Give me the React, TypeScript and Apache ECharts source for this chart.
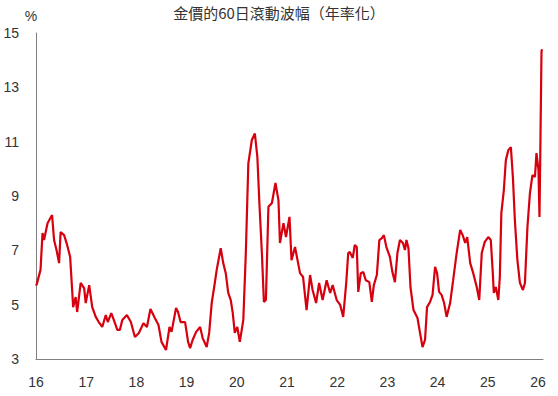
import React, { useEffect, useRef } from "react";
import * as echarts from "echarts";

const TITLE = "金價的60日滾動波幅（年率化）";
const Y_TICKS = [3, 5, 7, 9, 11, 13, 15];
const X_TICKS = [16, 17, 18, 19, 20, 21, 22, 23, 24, 25, 26];

// decimal year (two-digit) positions
const years = [
  16.0, 16.01, 16.09, 16.13, 16.16, 16.23, 16.32, 16.36, 16.41, 16.46, 16.49, 16.56, 16.62, 16.68,
  16.72, 16.74, 16.79, 16.82, 16.89, 16.96, 16.99, 17.06, 17.12, 17.19, 17.25, 17.32, 17.39,
  17.43, 17.5, 17.55, 17.62, 17.67, 17.72, 17.81, 17.89, 17.97, 18.05, 18.14, 18.21, 18.28,
  18.37, 18.44, 18.5, 18.59, 18.66, 18.7, 18.79, 18.83, 18.88, 18.97, 19.03, 19.07, 19.12,
  19.19, 19.27, 19.32, 19.4, 19.45, 19.5, 19.55, 19.6, 19.68, 19.73, 19.78, 19.83, 19.88,
  19.92, 19.96, 20.01, 20.06, 20.13, 20.18, 20.23, 20.3, 20.36, 20.41, 20.45, 20.5, 20.54,
  20.58, 20.63, 20.7, 20.77, 20.83, 20.86, 20.93, 20.98, 21.05, 21.09, 21.16, 21.21, 21.26,
  21.32, 21.39, 21.46, 21.51, 21.58, 21.64, 21.71, 21.79, 21.86, 21.91, 21.99, 22.06, 22.12,
  22.18, 22.22, 22.25, 22.31, 22.35, 22.39, 22.42, 22.47, 22.52, 22.57, 22.64, 22.69, 22.73,
  22.79, 22.84, 22.89, 22.93, 22.98, 23.05, 23.1, 23.15, 23.2, 23.25, 23.31, 23.35, 23.38,
  23.42, 23.46, 23.52, 23.6, 23.65, 23.7, 23.75, 23.79, 23.85, 23.9, 23.95, 23.99, 24.03,
  24.08, 24.13, 24.18, 24.25, 24.31, 24.38, 24.45, 24.5, 24.55, 24.59, 24.65, 24.71, 24.78,
  24.83, 24.88, 24.94, 25.01, 25.06, 25.1, 25.12, 25.16, 25.21, 25.24, 25.27, 25.32, 25.36,
  25.41, 25.46, 25.5, 25.54, 25.59, 25.64, 25.7, 25.74, 25.79, 25.84, 25.89, 25.94, 25.97,
  26.01, 26.03, 26.05, 26.07, 26.08,
];

const volatility = [
  5.75, 5.72, 6.28, 7.64, 7.38, 8.0, 8.3, 7.38, 7.0, 6.53, 7.67, 7.56, 7.2, 6.76,
  5.54, 4.91, 5.28, 4.73, 5.8, 5.6, 5.06, 5.72, 4.91, 4.55, 4.36, 4.18, 4.62,
  4.36, 4.69, 4.44, 4.07, 4.07, 4.44, 4.62, 4.36, 3.81, 3.96, 4.32, 4.18, 4.84,
  4.5, 4.25, 3.63, 3.33, 4.18, 4.0, 4.88, 4.73, 4.36, 4.36, 3.63, 3.4, 3.7,
  4.0, 4.18, 3.77, 3.44, 3.96, 5.06, 5.65, 6.28, 7.08, 6.53, 6.16, 5.43, 5.17,
  4.69, 3.96, 4.18, 3.63, 4.44, 6.9, 10.2, 11.06, 11.3, 10.43, 8.74, 6.9, 5.1,
  5.17, 8.6, 8.74, 9.48, 8.85, 7.27, 8.0, 7.49, 8.23, 6.64, 7.12, 6.64, 6.16,
  6.02, 4.8, 6.09, 5.54, 5.06, 5.8, 5.17, 5.9, 5.43, 5.72, 5.17, 4.99, 4.55,
  5.8, 6.9, 6.94, 6.72, 7.2, 7.12, 5.47, 6.16, 6.2, 5.9, 5.83, 5.1, 5.72,
  6.09, 7.38, 7.45, 7.56, 7.12, 6.76, 6.2, 5.83, 6.9, 7.38, 7.27, 7.01, 7.38,
  7.08, 5.65, 4.8, 4.51, 3.96, 3.44, 3.7, 4.91, 5.1, 5.36, 6.39, 6.16, 5.47,
  5.36, 5.06, 4.55, 5.06, 5.9, 6.9, 7.75, 7.56, 7.27, 7.49, 6.53, 6.16, 5.65,
  5.17, 6.9, 7.31, 7.49, 7.38, 6.16, 5.43, 5.65, 5.17, 6.02, 8.37, 9.22, 10.32,
  10.69, 10.8, 9.7, 8.1, 6.64, 5.8, 5.54, 5.8, 7.86, 9.11, 9.77, 9.7, 10.58,
  9.96, 8.23, 11.17, 14.3, 14.4,
];

export default function App() {
  const ref = useRef<HTMLDivElement>(null);
  useEffect(() => {
    document.body.style.margin = "0";
    if (!ref.current) return;
    const chart = echarts.init(ref.current, undefined, { renderer: "svg" });
    const data = years.map((y, i) => [y, volatility[i]]);
    const font = "'Liberation Sans', Arial, 'Noto Sans CJK TC', sans-serif";
    chart.setOption({
      animation: false,
      backgroundColor: "#ffffff",
      title: {
        text: TITLE,
        left: "center",
        top: 0,
        textStyle: {
          fontSize: 15,
          fontWeight: "normal",
          color: "#333333",
          fontFamily: "'Noto Sans CJK TC', 'Liberation Sans', sans-serif",
        },
      },
      grid: { left: 36, right: 15, top: 33, bottom: 37, containLabel: false },
      xAxis: {
        type: "value",
        min: X_TICKS[0],
        max: 26.1,
        interval: 1,
        axisLine: { show: true, lineStyle: { color: "#808080", width: 1 } },
        axisTick: { show: false },
        splitLine: { show: false },
        axisLabel: {
          margin: 16,
          fontSize: 14,
          color: "#333333",
          fontFamily: font,
          formatter: (v: number) => (X_TICKS.includes(v) ? String(v) : ""),
          showMaxLabel: false,
        },
      },
      yAxis: {
        type: "value",
        min: Y_TICKS[0],
        max: Y_TICKS[Y_TICKS.length - 1],
        interval: 2,
        name: "%",
        nameGap: 10,
        nameTextStyle: { fontSize: 14, color: "#333333", fontFamily: font, padding: [0, 10, 0, 0] },
        axisLine: { show: true, lineStyle: { color: "#808080", width: 1 } },
        axisTick: { show: false },
        splitLine: { show: false },
        axisLabel: { margin: 17, fontSize: 14, color: "#333333", fontFamily: font },
      },
      series: [
        {
          type: "line",
          data,
          showSymbol: false,
          symbol: "none",
          lineStyle: { color: "#d7000f", width: 2.2 },
          itemStyle: { color: "#d7000f" },
        },
      ],
    });
    return () => chart.dispose();
  }, []);
  return <div ref={ref} style={{ width: 558, height: 396 }} />;
}
